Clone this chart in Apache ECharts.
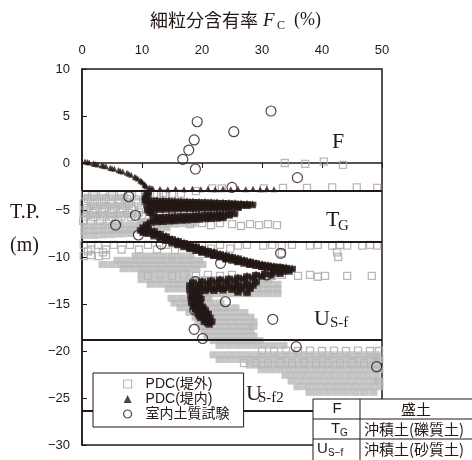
<!DOCTYPE html>
<html><head><meta charset="utf-8">
<script src="https://cdn.jsdelivr.net/npm/echarts/dist/echarts.min.js"></script>
<style>html,body{margin:0;padding:0;background:#fff}#c{width:472px;height:460px}</style>
</head><body><div id="c"></div>
<script>
// ---- axis ticks ----
const fcTicks = [0, 10, 20, 30, 40, 50];
const depthTicks = [-30, -25, -20, -15, -10, -5, 0, 5, 10];
// layer boundaries (T.P. m)
const layerBoundaries = [-3.0, -8.37, -18.85, -26.4];

// 室内土質試験 [Fc %, T.P. m]
const labTest = [
 [31.5,5.53],[19.2,4.39],[25.3,3.33],[18.7,2.45],[17.8,1.38],[16.8,0.39],[18.9,-0.64],[35.9,-1.56],[25.0,-2.59],
 [7.8,-3.59],[11.1,-4.57],[8.9,-5.56],[5.6,-6.6],[9.4,-7.66],[13.2,-8.62],[33.1,-9.61],[23.1,-10.67],[30.8,-11.91],
 [18.9,-12.63],[23.9,-14.76],[18.8,-15.64],[31.8,-16.63],[18.7,-17.69],[20.1,-18.67],[35.7,-19.54],[49.1,-21.67]
];

// PDC(堤内) [Fc %, T.P. m] : fill layer F
const pdcInnerUpper = [
 [0.5,0.15],[1.2,0.05],[1.9,-0.05],[2.6,-0.15],[3.3,-0.25],[4.0,-0.35],[4.7,-0.5],[5.4,-0.6],[6.1,-0.75],[6.8,-0.9],
 [7.5,-1.05],[8.2,-1.25],[8.8,-1.45],[9.3,-1.65],[9.7,-1.85],[10.1,-2.05],[10.4,-2.25],[10.7,-2.45],[11.2,-2.6],[11.8,-2.7],
 [0.9,0.1],[2.2,-0.1],[3.6,-0.3],[5.0,-0.55],[6.4,-0.85],[7.8,-1.15],[9.0,-1.55],[9.9,-1.95],[10.5,-2.35],[11.5,-2.65],
 [13.0,-2.75],[14.3,-2.8],[15.6,-2.75],[17.0,-2.8],[18.4,-2.75],[19.8,-2.8],[21.0,-2.75],[22.2,-2.8],[23.5,-2.75],
 [24.8,-2.8],[26.0,-2.75],[27.3,-2.8],[28.5,-2.75],[29.7,-2.8],[30.8,-2.75],[32.0,-2.8]
];
// PDC(堤内) [Fc %, T.P. m] : alluvium
const pdcInnerLower = [
 [11.0,-3.1],[10.8,-3.4],[10.6,-3.7],[10.6,-4.0],
 [11.5,-3.95],[12.5,-3.97],[13.5,-3.99],[14.5,-4.01],[15.5,-4.03],[16.5,-4.05],[17.5,-4.07],[18.5,-4.09],[19.5,-4.11],
 [20.5,-4.13],[21.5,-4.15],[22.5,-4.18],[23.5,-4.2],[24.5,-4.23],[25.5,-4.26],[26.5,-4.3],[27.5,-4.33],[28.4,-4.38],
 [11.5,-4.2],[12.5,-4.21],[13.5,-4.22],[14.5,-4.23],[15.5,-4.25],[16.5,-4.26],[17.5,-4.28],[18.5,-4.3],[19.5,-4.31],
 [20.5,-4.33],[21.5,-4.35],[22.5,-4.37],[23.5,-4.39],[24.5,-4.41],[25.5,-4.43],[26.5,-4.45],[27.5,-4.48],
 [11.0,-4.45],[12.5,-4.45],[14.0,-4.46],[15.5,-4.47],[17.0,-4.48],[18.5,-4.5],[20.0,-4.5],[21.5,-4.52],[23.0,-4.53],[24.5,-4.55],[26.0,-4.57],
 [11.5,-4.7],[12.5,-4.69],[13.5,-4.68],[14.5,-4.68],[15.5,-4.67],[16.5,-4.67],[17.5,-4.66],[18.5,-4.66],[19.5,-4.65],
 [20.5,-4.65],[21.5,-4.64],[22.5,-4.64],[23.5,-4.63],[24.5,-4.63],
 [11.0,-4.95],[12.0,-4.92],[13.0,-4.9],[14.0,-4.88],[15.0,-4.86],[16.0,-4.84],[17.0,-4.82],[18.0,-4.8],[19.0,-4.78],
 [20.0,-4.76],[21.0,-4.75],[22.0,-4.74],[23.0,-4.73],[24.0,-4.72],[25.0,-4.7],[26.0,-4.68],
 [11.3,-5.2],[11.8,-5.45],
 [12.5,-5.7],[13.5,-5.68],[14.5,-5.65],[15.5,-5.62],[16.5,-5.6],[17.5,-5.57],[18.5,-5.54],[19.5,-5.51],[20.5,-5.48],
 [21.5,-5.45],[22.5,-5.42],[23.5,-5.4],[24.5,-5.37],[25.4,-5.35],
 [13,-5.85],[15,-5.8],[17,-5.72],[19,-5.66],[21,-5.6],[23,-5.55],[24.5,-5.5],
 [12.0,-6.0],[14.0,-5.95],[16.0,-5.85],[18.0,-5.8],[20.0,-5.72],[22.0,-5.65],
 [13,-6.1],[15,-6.02],[17,-5.93],[19,-5.86],[21,-5.77],[23,-5.7],
 [11.5,-6.25],[12.5,-6.2],[13.5,-6.16],[14.5,-6.12],[15.5,-6.08],[16.5,-6.04],[17.5,-6.0],[18.5,-5.96],[19.5,-5.92],
 [20.5,-5.88],[21.5,-5.85],[22.5,-5.82],[23.5,-5.78],
 [10.8,-6.5],[10.2,-6.8],[9.8,-7.1],[10.2,-7.35],
 [11,-6.95],[12,-7.2],[13,-7.5],[14,-7.75],[15,-8.05],[16,-8.25],[17,-8.45],[18,-8.65],[19,-8.85],[20,-9.1],[21,-9.3],
 [22,-9.45],[23,-9.65],[24,-9.8],[25,-9.95],[26,-10.1],[27,-10.3],[28,-10.45],[29,-10.6],[30,-10.75],[31,-10.85],
 [32,-10.95],[33,-11.0],[34,-11.1],[35,-11.2],
 [11.5,-7.25],[12.5,-7.5],[13.5,-7.8],[14.5,-8.05],[15.5,-8.3],[16.5,-8.5],[17.5,-8.7],[18.5,-8.9],[19.5,-9.1],
 [20.5,-9.35],[21.5,-9.55],[22.5,-9.7],[23.5,-9.85],[24.5,-10.0],[25.5,-10.2],[26.5,-10.35],[27.5,-10.5],[28.5,-10.65],
 [29.5,-10.8],[30.5,-10.9],[31.5,-11.0],[32.5,-11.1],[33.5,-11.15],
 [12,-7.5],[14,-8.05],[16,-8.55],[18,-8.95],[20,-9.4],[22,-9.75],[24,-10.1],[26,-10.4],[28,-10.7],[30,-10.95],[32,-11.15],
 [11,-7.45],[12,-7.7],[13,-7.95],[14,-8.2],[15,-8.45],[16,-8.65],[17,-8.85],[18,-9.05],[19,-9.25],[20,-9.45],[21,-9.65],
 [22,-9.8],[23,-9.95],[24,-10.15],[25,-10.3],[26,-10.45],[27,-10.6],[28,-10.75],[29,-10.85],[30,-10.95],[31,-11.05],
 [32,-11.15],[33,-11.2],[34,-11.3],
 [34.5,-11.45],[33.5,-11.45],
 [32,-11.55],[30.5,-11.7],[29,-11.85],[27.5,-12.0],[26,-12.15],[24.5,-12.25],[23,-12.35],[21.5,-12.45],[20,-12.55],[18.5,-12.65],
 [33,-11.7],[31.5,-11.85],[30,-12.0],[28.5,-12.15],[27,-12.3],[25.5,-12.45],[24,-12.55],[22.5,-12.65],[21,-12.75],[19.5,-12.85],[18,-12.95],
 [29,-12.6],[27.5,-12.75],[26,-12.85],[24.5,-12.95],[23,-13.05],[21.5,-13.15],[20,-13.2],[18.5,-13.3],
 [28.5,-12.95],[27,-13.05],[25.5,-13.15],[24,-13.2],[22.5,-13.3],[21,-13.35],[19.5,-13.45],[18,-13.5],
 [28,-13.3],[26.5,-13.35],[25,-13.4],[23.5,-13.45],[22,-13.5],[20.5,-13.55],[19,-13.65],[27.5,-13.75],[26,-13.7],
 [18.5,-14.0],[19.5,-14.0],[18.5,-14.4],[19.8,-14.4],[18.3,-14.8],[19.6,-14.8],[18.6,-15.2],[20,-15.2],[19,-15.6],
 [20.5,-15.6],[19.4,-16.0],[21,-16.0],[19.8,-16.4],[21.3,-16.4],[20.4,-16.8],[21.6,-16.8],[21.2,-17.1],
 [19,-14.2],[19.2,-15.0],[19.8,-15.8],[20.6,-16.6],
 [18.8,-13.85],[19.2,-14.6],[18.9,-15.4],[19.6,-16.2],[20.9,-16.95],[20.2,-15.4],[20.6,-15.9],[18.2,-14.2]
];

// PDC(堤外) individual readings [Fc %, T.P. m]
const pdcOuterSparse = [
 [33.8,0],[37.2,-0.1],[40.3,0.15],[43.5,-0.2],
 [19,-3.0],[21.7,-2.7],[23.3,-2.7],[30.3,-2.7],[33.5,-2.65],[37.5,-2.65],[41.7,-2.6],[45.8,-2.6],[49.2,-2.65],
 [10.5,-3.25],[12,-3.3],[13.5,-3.2],[15,-3.3],[16.5,-3.25],
 [0.5,-3.4],[2,-3.45],[3.5,-3.4],[5,-3.45],[6.5,-3.4],[8,-3.45],[9.5,-3.4],[11,-3.45],[12.5,-3.4],[14,-3.35],
 [1,-3.85],[2.5,-3.9],[4,-3.85],[6,-3.9],[7.5,-3.85],[9,-3.9],
 [0.3,-4.3],[1.8,-4.35],[3.3,-4.3],[4.8,-4.35],[6.3,-4.3],[7.8,-4.35],[9.3,-4.3],
 [0.8,-4.8],[2.3,-4.85],[3.8,-4.8],[5.3,-4.85],[6.8,-4.8],[8.3,-4.85],[9.8,-4.8],
 [0.3,-5.25],[1.8,-5.3],[3.3,-5.25],[4.8,-5.3],[6.3,-5.25],[7.8,-5.3],[9.5,-5.25],
 [0.6,-5.7],[2.1,-5.75],[3.6,-5.7],[5.1,-5.75],[6.6,-5.7],[8.2,-5.75],[10,-5.7],
 [0.2,-6.15],[1.5,-6.2],[3,-6.15],[4.5,-6.2],[6,-6.15],
 [18,-6.5],[20,-6.4],[21.5,-6.6],[23,-6.4],[25,-6.5],[26.5,-6.7],[28,-6.5],[29.5,-6.6],[31,-6.5],[32.5,-6.6],
 [0.3,-8.7],[1.5,-9.2],[2.7,-8.7],[4,-9.2],[5.3,-8.7],[6.6,-9.2],[8,-8.7],[9.5,-9.2],[11,-8.7],[12.5,-9.2],
 [14,-8.7],[15.5,-9.3],[17,-8.8],[18.5,-9.2],[20,-8.8],[21.5,-9.1],[23,-8.7],[24.7,-9.1],[26,-8.8],[27.5,-8.7],
 [30.2,-8.8],[31.7,-8.7],[33.3,-8.8],[35,-8.7],[38,-8.8],[39.3,-8.7],[41.7,-8.8],[43,-8.7],[44.2,-8.8],[46.7,-8.8],
 [48,-8.7],[49.2,-8.8],[33.3,-9.6],[42.5,-9.5],[42.7,-10.0],
 [0.3,-9.9],[1.5,-9.8],[2.8,-9.9],[4,-9.8],[1,-9.4],[3.5,-9.5],
 [11,-12.0],[13,-11.9],[15,-12.0],[17,-11.9],[19,-12.0],[21,-11.9],[23,-12.0],[25,-11.9],
 [31.7,-12.0],[33.3,-11.9],[36,-12.0],[38,-11.9],[39.3,-12.1],[40.5,-12.0],[44.2,-12.0],[48.3,-12.0],
 [30,-19.95],[32,-20],[34,-19.95],[36,-20],[38,-19.95],[40,-20],[42,-19.95],[44,-20],[46,-19.95],[48,-20],[49.5,-20],
 [27,-21.3],[29,-21.25],[31,-21.3],[33,-21.25],[35,-21.3],[37,-21.25],[39,-21.3],[41,-21.25],[43,-21.3],[45,-21.25],[47,-21.3],[49,-21.25]
];

// PDC(堤外) densely overlapping readings [Fc %, T.P. m]
const pdcOuterDense = [
 [1,-3.65],[2.5,-3.65],[4,-3.65],[5.5,-3.65],[7,-3.65],
 [1.5,-4.55],[3,-4.55],[4.5,-4.55],[6,-4.55],[7.5,-4.55],
 [1,-5.5],[2.5,-5.5],[4,-5.5],[5.5,-5.5],[7,-5.5],[8.5,-5.5],
 [10,-6.2],[11.5,-6.2],[13,-6.15],[14.5,-6.15],[16,-6.1],[17.5,-6.1],[19,-6.05],
 [0.5,-6.7],[2,-6.7],[3.5,-6.65],[5,-6.65],[6.5,-6.6],[8,-6.6],[9.5,-6.6],[11,-6.55],[12.5,-6.55],[14,-6.5],[15.5,-6.5],[17,-6.45],[18.5,-6.45],
 [0.5,-7.2],[2,-7.2],[3.5,-7.15],[5,-7.15],[6.5,-7.1],[8,-7.1],[9.5,-7.05],[11,-7.0],[12.5,-6.95],[14,-6.9],
 [0.5,-7.7],[2,-7.7],[3.5,-7.65],[5,-7.6],[6.5,-7.55],[8,-7.5],
 [9,-9.9],[10.5,-9.9],[12,-9.9],[13.5,-9.9],[15,-9.9],[16.5,-9.9],[18,-9.9],
 [6,-10.35],[7.5,-10.35],[9,-10.35],[10.5,-10.35],[12,-10.35],[13.5,-10.35],[15,-10.35],[16.5,-10.35],[18,-10.35],[19.5,-10.35],
 [3.5,-10.8],[5,-10.8],[6.5,-10.8],[8,-10.8],[9.5,-10.8],[11,-10.8],[12.5,-10.8],[14,-10.8],[15.5,-10.8],[17,-10.8],[18.5,-10.8],[20,-10.8],
 [7,-11.25],[8.5,-11.25],[10,-11.25],[11.5,-11.25],[13,-11.25],[14.5,-11.25],[16,-11.25],[17.5,-11.25],[19,-11.25],
 [10,-11.7],[11.5,-11.7],[13,-11.7],[14.5,-11.7],[16,-11.7],[17.5,-11.7],
 [10,-12.4],[11.5,-12.4],[13,-12.4],[14.5,-12.4],[16,-12.4],[17.5,-12.4],[19,-12.4],[20.5,-12.4],[22,-12.4],[23.5,-12.4],[25,-12.4],[26.5,-12.4],[28,-12.4],[29.5,-12.4],[31,-12.4],
 [11.5,-12.9],[13,-12.9],[14.5,-12.9],[16,-12.9],[17.5,-12.9],[19,-12.9],[20.5,-12.9],[22,-12.9],[23.5,-12.9],[25,-12.9],[26.5,-12.9],[28,-12.9],[29.5,-12.9],[31,-12.9],[32.5,-12.9],
 [14.5,-13.4],[16,-13.4],[17.5,-13.4],[19,-13.4],[20.5,-13.4],[22,-13.4],[23.5,-13.4],[25,-13.4],[26.5,-13.4],[28,-13.4],[29.5,-13.4],[31,-13.4],[32.5,-13.4],
 [19,-13.9],[20.5,-13.9],[22,-13.9],[23.5,-13.9],[25,-13.9],[26.5,-13.9],[28,-13.9],[29.5,-13.9],[31,-13.9],[32.5,-13.9],
 [15,-14.4],[16.5,-14.4],[18,-14.4],[19.5,-14.4],[21,-14.4],
 [15.5,-14.9],[17,-14.9],[18.5,-14.9],[20,-14.9],[21.5,-14.9],[23,-14.9],
 [16.5,-15.4],[18,-15.4],[19.5,-15.4],[21,-15.4],[22.5,-15.4],[24,-15.4],[25.5,-15.4],
 [18,-15.9],[19.5,-15.9],[21,-15.9],[22.5,-15.9],[24,-15.9],[25.5,-15.9],[27,-15.9],
 [19,-16.4],[20.5,-16.4],[22,-16.4],[23.5,-16.4],[25,-16.4],[26.5,-16.4],[28,-16.4],
 [19.5,-16.9],[21,-16.9],[22.5,-16.9],[24,-16.9],[25.5,-16.9],[27,-16.9],[28.5,-16.9],
 [20,-17.4],[21.5,-17.4],[23,-17.4],[24.5,-17.4],[26,-17.4],[27.5,-17.4],[28.5,-17.4],
 [20.5,-17.9],[22,-17.9],[23.5,-17.9],[25,-17.9],[26.5,-17.9],[28,-17.9],
 [21,-18.4],[22.5,-18.4],[24,-18.4],[25.5,-18.4],[27,-18.4],[28.5,-18.4],
 [22,-18.9],[23.5,-18.9],[25,-18.9],[26.5,-18.9],[28,-18.9],[29.5,-18.9],
 [23,-19.4],[24.5,-19.4],[26,-19.4],[27.5,-19.4],[29,-19.4],[30.5,-19.4],[32,-19.4],[33.5,-19.4],
 [22,-20.4],[23.5,-20.4],[25,-20.4],[26.5,-20.4],[28,-20.4],[29.5,-20.4],[31,-20.4],[32.5,-20.4],[34,-20.4],[35.5,-20.4],
 [37,-20.4],[38.5,-20.4],[40,-20.4],[41.5,-20.4],[43,-20.4],[44.5,-20.4],[46,-20.4],[47.5,-20.4],[49,-20.4],
 [23,-20.9],[24.5,-20.9],[26,-20.9],[27.5,-20.9],[29,-20.9],[30.5,-20.9],[32,-20.9],[33.5,-20.9],[35,-20.9],[36.5,-20.9],
 [38,-20.9],[39.5,-20.9],[41,-20.9],[42.5,-20.9],[44,-20.9],[45.5,-20.9],[47,-20.9],[48.5,-20.9],[49.5,-20.9],
 [28,-21.5],[29.5,-21.5],[31,-21.5],[32.5,-21.5],[34,-21.5],[35.5,-21.5],[37,-21.5],[38.5,-21.5],[40,-21.5],[41.5,-21.5],
 [43,-21.5],[44.5,-21.5],[46,-21.5],[47.5,-21.5],[49,-21.5],
 [30,-22.0],[31.5,-22.0],[33,-22.0],[34.5,-22.0],[36,-22.0],[37.5,-22.0],[39,-22.0],[40.5,-22.0],[42,-22.0],[43.5,-22.0],
 [45,-22.0],[46.5,-22.0],[48,-22.0],[49.5,-22.0],
 [34,-22.6],[35.5,-22.6],[37,-22.6],[38.5,-22.6],[40,-22.6],[41.5,-22.6],[43,-22.6],[44.5,-22.6],[46,-22.6],[47.5,-22.6],[49,-22.6],
 [35,-23.2],[36.5,-23.2],[38,-23.2],[39.5,-23.2],[41,-23.2],[42.5,-23.2],[44,-23.2],[45.5,-23.2],[47,-23.2],[48.5,-23.2],[49.5,-23.2],
 [36,-23.8],[37.5,-23.8],[39,-23.8],[40.5,-23.8],[42,-23.8],[43.5,-23.8],[45,-23.8],[46.5,-23.8],[48,-23.8],[49.5,-23.8],
 [38,-24.4],[39.5,-24.4],[41,-24.4],[42.5,-24.4],[44,-24.4],[45.5,-24.4],[47,-24.4],[48.5,-24.4]
];

const INK = '#231815';
const SANS = '"Liberation Sans","Noto Sans CJK JP",sans-serif';
const CJK = '"Noto Sans CJK JP",sans-serif';
const SERIF = '"Liberation Serif",serif';

function txt(x, y, text, font, align) {
  return {
    type: 'text', x: x, y: y, z: 120, silent: true,
    style: { text: text, font: font, fill: INK, align: align || 'left', verticalAlign: 'middle',
             textAlign: align || 'left', textVerticalAlign: 'middle' }
  };
}

const chart = echarts.init(document.getElementById('c'), null, { renderer: 'canvas' });
const option = {
  animation: false,
  backgroundColor: '#fff',
  grid: { left: 82, right: 90, top: 69, bottom: 15, show: true, borderColor: INK, borderWidth: 1.5,
          containLabel: false, outerBoundsMode: 'none' },
  xAxis: {
    type: 'value', position: 'top', min: fcTicks[0], max: fcTicks[fcTicks.length - 1], interval: fcTicks[1] - fcTicks[0],
    axisLine: { show: true, lineStyle: { color: INK, width: 1.5 } },
    axisTick: { show: true, inside: true, length: 5, lineStyle: { color: INK, width: 1 } },
    axisLabel: { color: INK, fontSize: 13, fontFamily: SANS, margin: 12 },
    splitLine: { show: false }
  },
  yAxis: {
    type: 'value', min: depthTicks[0], max: depthTicks[depthTicks.length - 1], interval: depthTicks[1] - depthTicks[0],
    axisLine: { show: true, onZero: false, lineStyle: { color: INK, width: 1.5 } },
    axisTick: { show: true, inside: true, length: 5, lineStyle: { color: INK, width: 1 } },
    axisLabel: { color: INK, fontSize: 13, fontFamily: SANS, margin: 12,
                 formatter: v => String(v).replace('-', '\u2212') },
    splitLine: { show: false }
  },
  legend: {
    data: [
      { name: 'PDC(堤外)', itemStyle: { borderWidth: 1.2 } },
      { name: 'PDC(堤内)', itemStyle: { borderWidth: 0 } },
      { name: '室内土質試験', itemStyle: { borderWidth: 1.2 } }
    ],
    orient: 'vertical', left: 93, top: 373, z: 50,
    backgroundColor: '#fff', borderColor: INK, borderWidth: 1, borderRadius: 0,
    padding: [4, 14, 6, 30], itemGap: 1, itemWidth: 8, itemHeight: 8,
    selectedMode: false,
    textStyle: { fontSize: 14, fontFamily: SANS, color: INK, padding: [0, 0, 0, 9], lineHeight: 14 }
  },
  series: [
    { name: 'PDC(堤外)', type: 'scatter', data: pdcOuterSparse, symbol: 'rect', symbolSize: 7, silent: true,
      itemStyle: { color: 'rgba(0,0,0,0)', borderColor: '#a8a8a8', borderWidth: 1.3 } },
    { name: 'PDC(堤外)', type: 'scatter', data: pdcOuterDense, symbol: 'rect', symbolSize: [9, 7], silent: true,
      itemStyle: { color: '#b8b8b8' } },
    { name: 'PDC(堤内)', type: 'scatter', data: pdcInnerUpper, symbol: 'triangle', symbolSize: 6, silent: true,
      itemStyle: { color: INK } },
    { name: 'PDC(堤内)', type: 'scatter', data: pdcInnerLower, symbol: 'rect', symbolSize: [8, 5], silent: true,
      itemStyle: { color: INK } },
    { name: 'PDC(堤内)', type: 'scatter', data: pdcInnerLower, symbol: 'triangle', symbolSize: 8, silent: true,
      itemStyle: { color: INK } },
    { name: 'boundaries', type: 'scatter', data: [], silent: true,
      markLine: { silent: true, symbol: 'none', animation: false, label: { show: false },
                  lineStyle: { color: INK, width: 2, type: 'solid' },
                  data: layerBoundaries.map(d => ({ yAxis: d })) } },
    { name: '室内土質試験', type: 'scatter', data: labTest, symbol: 'circle', symbolSize: 10, silent: true,
      itemStyle: { color: 'rgba(0,0,0,0)', borderColor: INK, borderWidth: 1.2 } }
  ],
  graphic: [
    txt(150, 20, '細粒分含有率', '18px ' + CJK),
    txt(263, 21, 'F', 'italic 19px ' + SERIF),
    txt(277, 26, 'C', '12px ' + SERIF),
    txt(294, 20, '(%)', '18px ' + SERIF),
    txt(10, 213, 'T.P.', '20px ' + SERIF),
    txt(10, 246, '(m)', '20px ' + SERIF),
    txt(338, 142, 'F', '22px ' + SERIF, 'center'),
    txt(326, 220, 'T', '22px ' + SERIF),
    txt(338, 226, 'G', '15px ' + SERIF),
    txt(314, 319, 'U', '22px ' + SERIF),
    txt(330, 323, 'S-f', '15px ' + SERIF),
    txt(246, 394, 'U', '22px ' + SERIF),
    txt(258, 398, 'S-f2', '15px ' + SERIF),
    { type: 'rect', z: 110, silent: true, shape: { x: 313, y: 399, width: 175, height: 70 },
      style: { fill: '#fff', stroke: INK, lineWidth: 1 } },
    { type: 'line', z: 111, silent: true, shape: { x1: 360, y1: 399, x2: 360, y2: 470 }, style: { stroke: INK, lineWidth: 1 } },
    { type: 'line', z: 111, silent: true, shape: { x1: 313, y1: 419, x2: 480, y2: 419 }, style: { stroke: INK, lineWidth: 1 } },
    { type: 'line', z: 111, silent: true, shape: { x1: 313, y1: 439, x2: 480, y2: 439 }, style: { stroke: INK, lineWidth: 1 } },
    txt(337, 409, 'F', '15px ' + SANS, 'center'),
    txt(416, 409, '盛土', '15px ' + CJK, 'center'),
    txt(331, 429, 'T', '15px ' + SANS),
    txt(340, 433, 'G', '10px ' + SANS),
    txt(414, 429, '沖積土(礫質土)', '15px ' + CJK, 'center'),
    txt(317, 449, 'U', '15px ' + SANS),
    txt(328, 453, 'S\u2212f', '10px ' + SANS),
    txt(414, 449, '沖積土(砂質土)', '15px ' + CJK, 'center')
  ]
};
chart.setOption(option);
</script></body></html>
